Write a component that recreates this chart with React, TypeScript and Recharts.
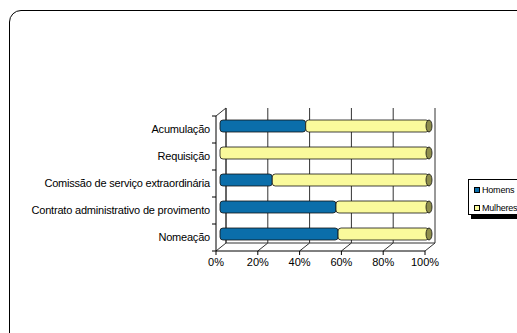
import React from 'react';
import * as R from 'recharts';

const { BarChart, Bar, XAxis, YAxis } = R as any;

const categories = [
  'Acumulação',
  'Requisição',
  'Comissão de serviço extraordinária',
  'Contrato administrativo de provimento',
  'Nomeação',
];
const homens = [41, 0, 25, 55.5, 56.5];
const mulheres = [59, 100, 75, 44.5, 43.5];
const xTicks = [0, 20, 40, 60, 80, 100];
const seriesNames = ['Homens', 'Mulheres'];
const seriesColors = ['#0B6EAA', '#FAFA9C'];

const data = categories.map((name, i) => ({ name, homens: homens[i], mulheres: mulheres[i] }));

const BAR_DX = 4;
const BAR_DY = -4;
const DEPTH_X = 10;
const DEPTH_Y = -8;
const FONT = '"Liberation Sans", Arial, sans-serif';

function Walls() {
  const usePA = (R as any).usePlotArea;
  const pa = usePA ? usePA() : null;
  if (!pa) return null;
  const { x, y, width, height } = pa;
  const lines: React.ReactNode[] = [];
  const stroke = '#333';
  xTicks.forEach((t, i) => {
    const xt = x + (width * t) / 100;
    lines.push(
      <line key={'g' + i} x1={xt + DEPTH_X} y1={y + DEPTH_Y} x2={xt + DEPTH_X} y2={y + height + DEPTH_Y} stroke={stroke} strokeWidth={1} />
    );
    lines.push(
      <line key={'d' + i} x1={xt} y1={y + height} x2={xt + DEPTH_X} y2={y + height + DEPTH_Y} stroke={stroke} strokeWidth={1} />
    );
  });
  lines.push(<line key="bw" x1={x + DEPTH_X} y1={y + DEPTH_Y} x2={x + DEPTH_X} y2={y + height + DEPTH_Y} stroke={stroke} />);
  lines.push(<line key="tl" x1={x} y1={y} x2={x + DEPTH_X} y2={y + DEPTH_Y} stroke={stroke} />);
  lines.push(
    <line key="fb" x1={x + DEPTH_X} y1={y + height + DEPTH_Y} x2={x + width + DEPTH_X} y2={y + height + DEPTH_Y} stroke={stroke} />
  );
  for (let i = 0; i <= categories.length; i++) {
    const yy = y + (height * i) / categories.length;
    lines.push(<line key={'yt' + i} x1={x - 4} y1={yy} x2={x} y2={yy} stroke="#000" />);
  }
  return <g>{lines}</g>;
}

function YTick(props: any) {
  const { x, y, payload } = props;
  return (
    <text x={x} y={y} dy="0.35em" textAnchor="end" fontSize={11} fontFamily={FONT} fill="#000" letterSpacing="-0.2">
      {payload.value}
    </text>
  );
}

function HomensShape(props: any) {
  const { x, y, width, height, fill } = props;
  if (!width || width <= 0) return null;
  const X = x + BAR_DX;
  const Y = y + BAR_DY;
  return <rect x={X} y={Y} width={width} height={height} rx={3} ry={3} fill={fill} stroke="#111" strokeWidth={0.8} />;
}

function MulheresShape(props: any) {
  const { x, y, width, height, fill } = props;
  if (!width || width <= 0) return null;
  const X = x + BAR_DX;
  const Y = y + BAR_DY;
  return (
    <g>
      <rect x={X} y={Y} width={width} height={height} rx={3} ry={3} fill={fill} stroke="#111" strokeWidth={0.8} />
      <ellipse cx={X + width} cy={Y + height / 2} rx={3} ry={height / 2} fill="#8E8E4C" stroke="#111" strokeWidth={0.8} />
    </g>
  );
}

function LegendBox() {
  return (
    <div
      style={{
        position: 'absolute',
        left: 468,
        top: 179,
        border: '1px solid #000',
        boxShadow: '3px 4px 0 #000',
        background: '#fff',
        width: 60,
        height: 36,
        boxSizing: 'border-box',
        padding: '4px 0 0 5px',
        fontFamily: FONT,
        fontSize: 9,
        letterSpacing: '-0.2px',
        whiteSpace: 'nowrap',
        overflow: 'hidden',
      }}
    >
      {seriesNames.map((name, i) => (
        <div key={i} style={{ display: 'flex', alignItems: 'center', height: 12, marginBottom: i === 0 ? 6 : 0 }}>
          <span
            style={{
              display: 'inline-block',
              width: 4,
              height: 4,
              background: seriesColors[i],
              border: '1px solid #000',
              marginRight: 2,
            }}
          />
          <span>{name}</span>
        </div>
      ))}
    </div>
  );
}

export default function App() {
  return (
    <div style={{ position: 'absolute', left: 0, top: 0, width: 517, height: 333, overflow: 'hidden', background: '#fff' }}>
      <div
        style={{
          position: 'absolute',
          left: 9,
          top: 10,
          width: 560,
          height: 360,
          border: '1.5px solid #000',
          borderRadius: 12,
          boxSizing: 'border-box',
        }}
      />
      <div style={{ position: 'absolute', left: 0, top: 0 }}>
        <BarChart
          width={517}
          height={333}
          data={data}
          layout="vertical"
          margin={{ top: 116, right: 92, bottom: 62, left: 16 }}
          barSize={12}
        >
          <Walls />
          <XAxis
            type="number"
            domain={[0, 100]}
            ticks={xTicks}
            interval={0}
            tickFormatter={(v: number) => `${v}%`}
            height={20}
            tickSize={4}
            tickMargin={3}
            axisLine={{ stroke: '#000' }}
            tickLine={{ stroke: '#000' }}
            tick={{ fontSize: 11, fill: '#000', fontFamily: FONT }}
          />
          <YAxis
            type="category"
            dataKey="name"
            width={200}
            tickSize={0}
            tickMargin={6}
            axisLine={{ stroke: '#000' }}
            tickLine={false}
            interval={0}
            tick={<YTick />}
          />
          <Bar dataKey="homens" name={seriesNames[0]} stackId="a" fill={seriesColors[0]} shape={<HomensShape />} isAnimationActive={false} />
          <Bar dataKey="mulheres" name={seriesNames[1]} stackId="a" fill={seriesColors[1]} shape={<MulheresShape />} isAnimationActive={false} />
        </BarChart>
      </div>
      <LegendBox />
    </div>
  );
}
